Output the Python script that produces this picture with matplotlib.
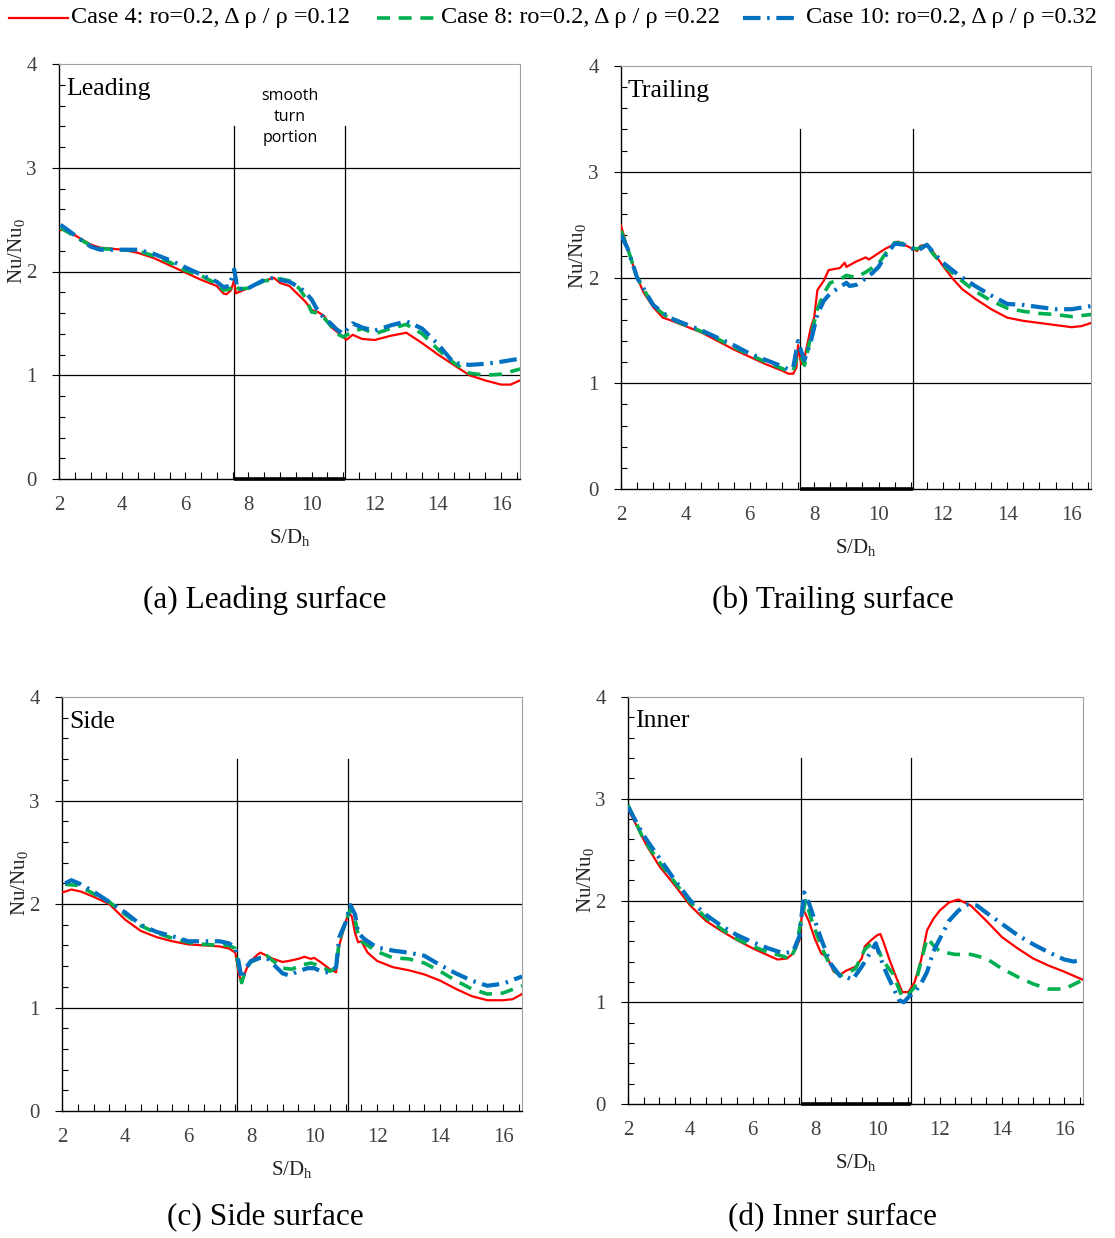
import matplotlib
matplotlib.use("Agg")
import matplotlib.pyplot as plt
from matplotlib.lines import Line2D
from matplotlib.ticker import MultipleLocator

plt.rcParams["font.family"] = ["Liberation Serif", "DejaVu Serif"]
plt.rcParams["mathtext.fontset"] = "custom"
plt.rcParams["mathtext.rm"] = "Liberation Serif"
plt.rcParams["mathtext.it"] = "Liberation Serif:italic"

case_labels = ["Case 4: ro=0.2, Δ ρ / ρ =0.12",
               "Case 8: ro=0.2, Δ ρ / ρ =0.22",
               "Case 10: ro=0.2, Δ ρ / ρ =0.32"]

# ---- Leading surface ----
lead_x4 = [2.05, 2.3, 2.5, 3.0, 3.3, 4.0, 4.5, 5.0, 5.5, 6.0, 6.5, 7.0, 7.2, 7.3, 7.45, 7.55, 7.6,
           8.0, 8.5, 8.8, 9.0, 9.3, 9.6, 9.8, 10.0, 10.2, 10.4, 10.6, 10.8, 11.0, 11.1, 11.3, 11.6,
           12.0, 12.5, 13.0, 13.5, 14.0, 14.5, 15.0, 15.5, 16.0, 16.3, 16.6]
lead_y4 = [2.40, 2.40, 2.35, 2.26, 2.23, 2.21, 2.18, 2.13, 2.06, 1.99, 1.92, 1.86, 1.79, 1.78, 1.82, 1.92, 1.79,
           1.84, 1.91, 1.94, 1.89, 1.86, 1.77, 1.71, 1.63, 1.61, 1.57, 1.47, 1.42, 1.37, 1.34, 1.39, 1.35,
           1.34, 1.38, 1.41, 1.31, 1.20, 1.10, 1.00, 0.95, 0.91, 0.91, 0.95]
lead_x8 = [2.05, 2.5, 3.0, 3.3, 4.0, 4.5, 5.0, 5.5, 6.0, 6.5, 7.0, 7.2, 7.4, 7.55, 7.7, 8.0, 8.5, 9.0, 9.3,
           9.6, 9.8, 10.0, 10.2, 10.4, 10.6, 10.8, 11.0, 11.3, 11.6, 12.0, 12.5, 13.0, 13.5, 14.0, 14.5,
           15.0, 15.5, 16.0, 16.6]
lead_y8 = [2.42, 2.34, 2.25, 2.22, 2.21, 2.20, 2.15, 2.09, 2.01, 1.96, 1.88, 1.82, 1.83, 1.88, 1.83, 1.84, 1.91, 1.93, 1.91,
           1.84, 1.75, 1.61, 1.60, 1.55, 1.48, 1.40, 1.37, 1.42, 1.45, 1.40, 1.45, 1.49, 1.40, 1.25, 1.12,
           1.02, 1.00, 1.01, 1.06]
lead_x10 = [2.05, 2.5, 3.0, 3.3, 4.0, 4.5, 5.0, 5.5, 6.0, 6.5, 7.0, 7.2, 7.4, 7.55, 7.65, 8.0, 8.5, 8.8, 9.0,
            9.3, 9.6, 9.8, 10.0, 10.2, 10.4, 10.6, 10.8, 11.0, 11.3, 11.6, 12.0, 12.5, 13.0, 13.5, 14.0,
            14.5, 15.0, 15.5, 16.0, 16.6]
lead_y10 = [2.45, 2.35, 2.24, 2.21, 2.21, 2.21, 2.17, 2.11, 2.04, 1.97, 1.90, 1.85, 1.86, 2.02, 1.83, 1.84, 1.92, 1.94, 1.92,
            1.90, 1.85, 1.80, 1.73, 1.62, 1.55, 1.50, 1.44, 1.40, 1.50, 1.46, 1.43, 1.48, 1.52, 1.45, 1.30,
            1.12, 1.10, 1.11, 1.13, 1.16]

# ---- Trailing surface ----
trail_x4 = [2.0, 2.2, 2.5, 2.7, 3.0, 3.3, 3.5, 4.0, 4.5, 5.0, 5.5, 6.0, 6.5, 7.0, 7.2, 7.35, 7.45, 7.5, 7.6,
            7.7, 7.9, 8.0, 8.1, 8.3, 8.45, 8.8, 8.95, 9.0, 9.3, 9.6, 9.7, 10.0, 10.2, 10.4, 10.6, 10.8,
            11.0, 11.2, 11.3, 11.5, 11.7, 12.0, 12.3, 12.6, 13.0, 13.5, 14.0, 14.5, 15.0, 15.5, 16.0, 16.3, 16.6]
trail_y4 = [2.49, 2.28, 2.00, 1.86, 1.72, 1.62, 1.60, 1.54, 1.48, 1.40, 1.32, 1.25, 1.18, 1.12, 1.09, 1.09, 1.15, 1.36, 1.18,
            1.24, 1.53, 1.62, 1.88, 1.97, 2.07, 2.09, 2.14, 2.10, 2.15, 2.19, 2.17, 2.23, 2.27, 2.30, 2.34, 2.31,
            2.28, 2.25, 2.30, 2.31, 2.24, 2.11, 1.99, 1.89, 1.80, 1.70, 1.62, 1.59, 1.57, 1.55, 1.53, 1.54, 1.57]
trail_x8 = [2.0, 2.2, 2.5, 3.0, 3.5, 4.0, 4.5, 5.0, 5.5, 6.0, 6.5, 7.0, 7.2, 7.35, 7.5, 7.6, 7.7, 7.9, 8.1,
            8.3, 8.5, 8.8, 9.0, 9.3, 9.6, 10.0, 10.2, 10.5, 10.8, 11.0, 11.2, 11.5, 11.7, 12.0, 12.5, 13.0,
            13.5, 14.0, 14.5, 15.0, 15.5, 16.0, 16.6]
trail_y8 = [2.44, 2.28, 2.00, 1.73, 1.61, 1.55, 1.49, 1.42, 1.34, 1.27, 1.20, 1.14, 1.11, 1.12, 1.28, 1.25, 1.17, 1.45, 1.70,
            1.85, 1.95, 1.98, 2.02, 2.00, 2.05, 2.13, 2.22, 2.33, 2.32, 2.28, 2.27, 2.31, 2.22, 2.12, 1.99, 1.87,
            1.78, 1.71, 1.68, 1.66, 1.65, 1.63, 1.65]
trail_x10 = [2.0, 2.2, 2.5, 3.0, 3.5, 4.0, 4.5, 5.0, 5.5, 6.0, 6.5, 7.0, 7.2, 7.35, 7.5, 7.6, 7.7, 7.9, 8.1,
             8.3, 8.5, 8.8, 9.0, 9.1, 9.3, 9.5, 9.8, 10.0, 10.2, 10.5, 10.8, 11.0, 11.2, 11.5, 11.7, 12.0,
             12.5, 13.0, 13.5, 14.0, 14.5, 15.0, 15.5, 16.0, 16.6]
trail_y10 = [2.40, 2.28, 2.00, 1.74, 1.62, 1.56, 1.50, 1.43, 1.36, 1.28, 1.22, 1.16, 1.13, 1.15, 1.40, 1.30, 1.22, 1.40, 1.65,
             1.78, 1.85, 1.91, 1.95, 1.92, 1.93, 1.97, 2.04, 2.10, 2.20, 2.32, 2.31, 2.28, 2.25, 2.31, 2.24, 2.14,
             2.02, 1.92, 1.83, 1.75, 1.74, 1.72, 1.70, 1.70, 1.73]

# ---- Side surface ----
side_x4 = [2.0, 2.3, 2.6, 3.0, 3.5, 4.0, 4.5, 5.0, 5.5, 6.0, 6.5, 7.0, 7.3, 7.5, 7.6, 7.7, 7.85, 8.0, 8.2,
           8.3, 8.5, 8.7, 9.0, 9.2, 9.5, 9.7, 9.9, 10.0, 10.2, 10.5, 10.7, 10.8, 11.0, 11.1, 11.2, 11.3,
           11.4, 11.5, 11.7, 12.0, 12.5, 13.0, 13.5, 14.0, 14.5, 15.0, 15.5, 16.0, 16.3, 16.6]
side_y4 = [2.11, 2.14, 2.12, 2.07, 2.00, 1.85, 1.74, 1.68, 1.64, 1.61, 1.60, 1.59, 1.57, 1.53, 1.34, 1.24, 1.37, 1.45, 1.51,
           1.53, 1.50, 1.47, 1.44, 1.45, 1.47, 1.49, 1.47, 1.48, 1.44, 1.37, 1.34, 1.60, 1.82, 1.92, 1.88, 1.72,
           1.63, 1.64, 1.53, 1.45, 1.39, 1.36, 1.32, 1.26, 1.18, 1.11, 1.07, 1.07, 1.08, 1.13]
side_x8 = [2.1, 2.5, 3.0, 3.5, 4.0, 4.5, 5.0, 5.5, 6.0, 6.5, 7.0, 7.3, 7.5, 7.6, 7.7, 7.85, 8.0, 8.3, 8.5,
           8.7, 9.0, 9.3, 9.6, 9.9, 10.2, 10.5, 10.7, 10.8, 11.0, 11.15, 11.3, 11.4, 11.5, 11.7, 12.0, 12.5,
           13.0, 13.5, 14.0, 14.5, 15.0, 15.5, 16.0, 16.6]
side_y8 = [2.19, 2.18, 2.10, 2.02, 1.90, 1.79, 1.72, 1.67, 1.63, 1.61, 1.60, 1.60, 1.57, 1.40, 1.24, 1.38, 1.44, 1.48, 1.50,
           1.45, 1.38, 1.37, 1.41, 1.43, 1.40, 1.35, 1.38, 1.65, 1.82, 1.95, 1.85, 1.70, 1.64, 1.60, 1.54, 1.48,
           1.47, 1.43, 1.35, 1.26, 1.18, 1.13, 1.14, 1.21]
side_x10 = [2.1, 2.3, 2.6, 3.0, 3.5, 4.0, 4.5, 5.0, 5.5, 6.0, 6.5, 7.0, 7.3, 7.5, 7.6, 7.7, 7.85, 8.0, 8.3,
            8.5, 8.7, 9.0, 9.2, 9.5, 9.8, 10.0, 10.3, 10.5, 10.7, 10.8, 11.0, 11.15, 11.3, 11.4, 11.6, 12.0,
            12.5, 13.0, 13.5, 14.0, 14.5, 15.0, 15.5, 16.0, 16.6]
side_y10 = [2.20, 2.23, 2.19, 2.12, 2.02, 1.92, 1.80, 1.73, 1.69, 1.64, 1.64, 1.64, 1.62, 1.58, 1.45, 1.28, 1.39, 1.45, 1.48,
            1.48, 1.42, 1.33, 1.31, 1.35, 1.38, 1.38, 1.34, 1.34, 1.39, 1.68, 1.82, 1.99, 1.90, 1.72, 1.66, 1.58,
            1.55, 1.53, 1.50, 1.41, 1.33, 1.26, 1.21, 1.23, 1.30]

# ---- Inner surface ----
inner_x4 = [2.0, 2.3, 2.6, 3.0, 3.5, 4.0, 4.5, 5.0, 5.5, 6.0, 6.5, 6.8, 7.1, 7.3, 7.5, 7.6, 7.8, 8.0, 8.2,
            8.4, 8.6, 8.8, 9.0, 9.3, 9.5, 9.6, 9.8, 10.0, 10.1, 10.2, 10.4, 10.6, 10.8, 11.0, 11.2, 11.4,
            11.6, 11.8, 12.0, 12.3, 12.6, 13.0, 13.5, 14.0, 14.5, 15.0, 15.5, 16.0, 16.6]
inner_y4 = [2.90, 2.72, 2.54, 2.34, 2.15, 1.95, 1.80, 1.70, 1.61, 1.53, 1.46, 1.42, 1.43, 1.48, 1.61, 1.93, 1.80, 1.62, 1.48,
            1.44, 1.30, 1.27, 1.31, 1.35, 1.43, 1.55, 1.61, 1.66, 1.67, 1.59, 1.41, 1.25, 1.10, 1.10, 1.20, 1.41,
            1.71, 1.82, 1.90, 1.98, 2.01, 1.95, 1.80, 1.64, 1.53, 1.43, 1.36, 1.30, 1.22]
inner_x8 = [2.0, 2.5, 3.0, 3.5, 4.0, 4.5, 5.0, 5.5, 6.0, 6.5, 7.0, 7.2, 7.4, 7.55, 7.7, 7.9, 8.2, 8.5, 8.8,
            9.0, 9.3, 9.6, 9.9, 10.2, 10.5, 10.8, 11.0, 11.2, 11.4, 11.6, 11.8, 12.0, 12.5, 13.0, 13.5, 14.0,
            14.5, 15.0, 15.5, 16.0, 16.6]
inner_y8 = [2.94, 2.60, 2.38, 2.18, 1.98, 1.83, 1.72, 1.62, 1.55, 1.49, 1.45, 1.42, 1.55, 1.80, 2.00, 1.80, 1.55, 1.35, 1.26,
            1.28, 1.33, 1.52, 1.60, 1.40, 1.28, 1.05, 1.08, 1.15, 1.40, 1.63, 1.56, 1.50, 1.47, 1.47, 1.43, 1.33,
            1.25, 1.18, 1.13, 1.13, 1.22]
inner_x10 = [2.0, 2.5, 3.0, 3.5, 4.0, 4.5, 5.0, 5.5, 6.0, 6.5, 7.0, 7.3, 7.5, 7.65, 7.8, 8.0, 8.2, 8.5, 8.8,
             9.0, 9.2, 9.5, 9.8, 9.95, 10.2, 10.5, 10.7, 10.85, 11.0, 11.2, 11.4, 11.6, 11.8, 12.0, 12.3, 12.6,
             12.9, 13.2, 13.5, 14.0, 14.5, 15.0, 15.5, 16.0, 16.3, 16.6]
inner_y10 = [2.92, 2.64, 2.42, 2.20, 2.00, 1.86, 1.75, 1.66, 1.59, 1.53, 1.48, 1.50, 1.65, 2.08, 1.98, 1.80, 1.62, 1.38, 1.26,
             1.25, 1.22, 1.35, 1.50, 1.58, 1.35, 1.15, 1.02, 1.00, 1.05, 1.10, 1.18, 1.30, 1.50, 1.62, 1.80, 1.90,
             1.96, 1.95, 1.88, 1.77, 1.66, 1.57, 1.49, 1.42, 1.40, 1.42]

panel_names = ["Leading", "Trailing", "Side", "Inner"]
captions = ["(a) Leading surface", "(b) Trailing surface", "(c) Side surface", "(d) Inner surface"]
panel_data = [
    [(lead_x4, lead_y4), (lead_x8, lead_y8), (lead_x10, lead_y10)],
    [(trail_x4, trail_y4), (trail_x8, trail_y8), (trail_x10, trail_y10)],
    [(side_x4, side_y4), (side_x8, side_y8), (side_x10, side_y10)],
    [(inner_x4, inner_y4), (inner_x8, inner_y8), (inner_x10, inner_y10)],
]
turn_start, turn_end = 7.55, 11.07

W, H = 1115, 1238
fig = plt.figure(figsize=(W / 100, H / 100), dpi=100)

# axes boxes in pixels: left, top, right, bottom
boxes = [(59, 64, 520, 479), (621, 66, 1091, 489), (62, 697, 522, 1111), (628, 697, 1083, 1104)]
caption_xy = [(265, 600), (833, 600), (265, 1218), (832, 1218)]

colors = ["#ff0000", "#00b050", "#0070c0"]
styles = [dict(lw=1.6, ls="-"),
          dict(lw=2.6, dashes=(3.6, 2.4)),
          dict(lw=3.0, dashes=(4.2, 1.6, 0.6, 1.6))]

for i, (l, t, r, b) in enumerate(boxes):
    ax = fig.add_axes([l / W, 1 - b / H, (r - l) / W, (b - t) / H])
    for spine in ["top", "right"]:
        ax.spines[spine].set_color("#a0a0a0")
    for spine in ["left", "bottom"]:
        ax.spines[spine].set_color("black")
        ax.spines[spine].set_linewidth(1.0)

    for y in (1, 2, 3):
        ax.axhline(y, color="black", lw=0.9, zorder=1)
    for xv in (turn_start, turn_end):
        ax.plot([xv, xv], [0, 3.4], color="black", lw=0.9, zorder=1)
    if i != 2:
        ax.plot([turn_start, turn_end], [0, 0], color="black", lw=2.6,
                solid_capstyle="butt", clip_on=False, zorder=3)

    for (xs, ys), c, st in zip(panel_data[i], colors, styles):
        ax.plot(xs, ys, color=c, zorder=4, **st)

    ax.set_xlim(2, 16.6)
    ax.set_ylim(0, 4)
    ax.xaxis.set_major_locator(MultipleLocator(2))
    ax.xaxis.set_minor_locator(MultipleLocator(0.5))
    ax.yaxis.set_major_locator(MultipleLocator(1))
    ax.yaxis.set_minor_locator(MultipleLocator(0.2))
    ax.tick_params(axis="x", which="both", direction="in", length=5, width=0.8,
                   labelsize=15, labelcolor="#404040", pad=12)
    ax.tick_params(axis="y", which="major", direction="out", length=5, width=0.8,
                   labelsize=15, labelcolor="#404040", pad=11)
    ax.tick_params(axis="y", which="minor", direction="in", length=4, width=0.8)

    ax.set_xlabel(r"S/D$_\mathregular{h}$", fontsize=15, color="#202020", labelpad=9)
    ax.set_ylabel(r"Nu/Nu$_\mathregular{0}$", fontsize=15, color="#202020", labelpad=0)
    ax.yaxis.set_label_coords(-0.07, 0.55)

    ax.text(0.015, 0.94, panel_names[i], transform=ax.transAxes, fontsize=18.5,
            ha="left", va="center", color="black")

    if i == 0:
        ax.text((turn_start + turn_end) / 2, 3.49, "smooth\nturn\nportion",
                family="Open Sans", fontsize=11.5, ha="center", va="center",
                linespacing=1.45)

    cx, cy = caption_xy[i]
    fig.text(cx / W, 1 - cy / H, captions[i], fontsize=22.5, ha="center", va="center")

# legend row across the top of the figure
legend_y = 1 - 18 / H
handle_spans = [(9, 68), (377, 434), (743, 800)]
text_x = [71, 441, 806]
for (x0, x1), tx, c, st, lab in zip(handle_spans, text_x, colors, styles, case_labels):
    fig.add_artist(Line2D([x0 / W, x1 / W], [legend_y, legend_y], transform=fig.transFigure,
                          color=c, **st))
    fig.text(tx / W, legend_y, lab, fontsize=17.5, ha="left", va="center")

fig.savefig("out.png", dpi=100)
